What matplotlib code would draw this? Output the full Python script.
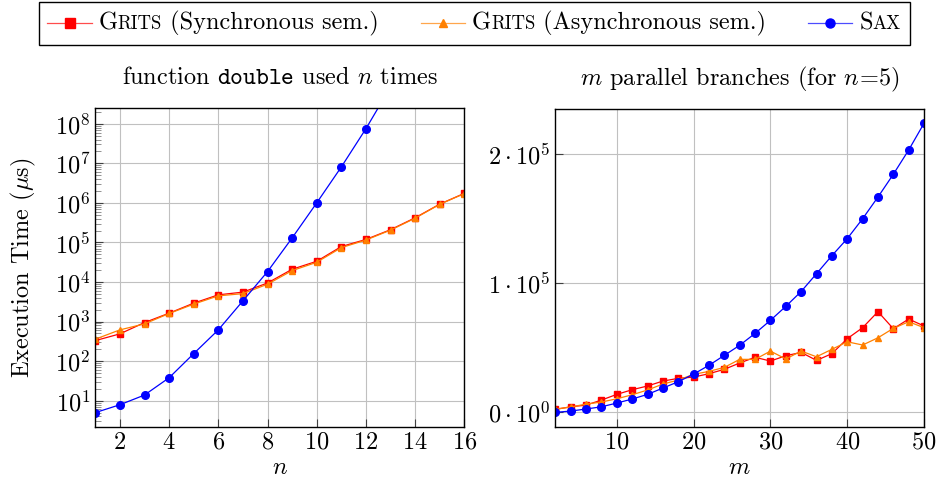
import numpy as np
import matplotlib
matplotlib.use("Agg")
import matplotlib.pyplot as plt
from matplotlib.ticker import LogLocator, NullFormatter, FixedLocator, FixedFormatter
from matplotlib.offsetbox import AnchoredOffsetbox, HPacker, TextArea, DrawingArea
from matplotlib.lines import Line2D

FS = 17.5
plt.rcParams['font.family'] = 'serif'
plt.rcParams['font.serif'] = ['cmr10']
plt.rcParams['mathtext.fontset'] = 'cm'
plt.rcParams['axes.formatter.use_mathtext'] = True
plt.rcParams['font.size'] = FS

# left panel: function double used n times
n_vals = list(range(1, 17))
sync_n = [330, 489, 944, 1630, 2920, 4740, 5550, 9440, 21000, 33400,
          78700, 119000, 210000, 420000, 930000, 1740000]
async_n = [359, 617, 874, 1600, 2760, 4470, 5080, 8800, 19400, 31500,
           74000, 115000, 205000, 410000, 920000, 1720000]
n_sax = list(range(1, 14))
sax_n = [5.0, 7.9, 13.9, 38, 155, 617, 3340, 18300, 130000, 1000000,
         8100000, 75000000, 850000000]

# right panel: m parallel branches (n = 5)
m_vals = list(range(2, 51, 2))
sync_m = [2300, 4300, 5600, 9500, 13900, 17500, 20400, 24200, 26300, 27300,
          29900, 33300, 38200, 42600, 39700, 43800, 46400, 40200, 45400, 57000,
          65500, 77900, 64700, 72200, 66800]
async_m = [2500, 4100, 6400, 8000, 10500, 13600, 17300, 21900, 25000, 29400,
           31700, 34800, 41000, 41000, 47400, 41300, 47400, 43000, 48800, 54600,
           52100, 57700, 65000, 70100, 65500]
sax_m = [0, 1000, 2600, 4300, 7200, 10300, 13900, 18800, 23700, 29600,
         36400, 44100, 51900, 61100, 71200, 82000, 93500, 107300, 121200, 134400,
         149800, 166600, 184200, 203000, 223700]

RED = '#ff0000'
ORANGE = '#ff8000'
BLUE = '#0000ff'
GRID = '#c0c0c0'
LW = 0.9

fig = plt.figure(figsize=(9.39, 4.87), dpi=100)
ax1 = fig.add_axes([0.1015, 0.1238, 0.393, 0.6544])
ax2 = fig.add_axes([0.5914, 0.1238, 0.3927, 0.6524])

ax1.plot(n_vals, sync_n, color=RED, lw=LW, marker='s', ms=5)
ax1.plot(n_vals, async_n, color=ORANGE, lw=LW, marker='^', ms=4.5)
ax1.plot(n_sax, sax_n, color=BLUE, lw=LW, marker='o', ms=5.5)
ax1.set_yscale('log')
ax1.set_xlim(1, 16)
ax1.set_ylim(2.2, 2.5e8)
ax1.set_xticks(range(2, 17, 2))
ax1.yaxis.set_major_locator(LogLocator(base=10, numticks=20))
ax1.yaxis.set_minor_locator(LogLocator(base=10, subs=np.arange(2, 10), numticks=20))
ax1.yaxis.set_minor_formatter(NullFormatter())
ax1.set_xlabel('$n$', labelpad=2)
ax1.set_ylabel(r'Execution Time ($\mu$s)', labelpad=12)
ax1.set_title(r'function $\mathtt{double}$ used $n$ times', pad=17, fontsize=FS)

ax2.plot(m_vals, sync_m, color=RED, lw=LW, marker='s', ms=5)
ax2.plot(m_vals, async_m, color=ORANGE, lw=LW, marker='^', ms=4.5)
ax2.plot(m_vals, sax_m, color=BLUE, lw=LW, marker='o', ms=5.5)
ax2.set_xlim(2, 50)
ax2.set_ylim(-11100, 2.347e5)
ax2.set_xticks(range(10, 51, 10))
ax2.yaxis.set_major_locator(FixedLocator([0, 1e5, 2e5]))
ax2.yaxis.set_major_formatter(FixedFormatter([r'$0\cdot10^{0}$', r'$1\cdot10^{5}$', r'$2\cdot10^{5}$']))
ax2.set_xlabel('$m$', labelpad=2)
ax2.set_title(r'$m$ parallel branches (for $n\!=\!5$)', pad=17, fontsize=FS)

for ax in (ax1, ax2):
    ax.grid(True, which='major', color=GRID, lw=0.8)
    ax.set_axisbelow(True)
    ax.tick_params(which='major', direction='in', length=6, width=0.8, color='#404040')
    ax.tick_params(which='minor', direction='in', length=4, width=0.6, color='#808080')
    for sp in ax.spines.values():
        sp.set_linewidth(1.0)


# legend with small caps names
def handle(color, marker, ms):
    da = DrawingArea(32, 10, 0, 0)
    da.add_artist(Line2D([0, 32], [5, 5], color=color, lw=LW, alpha=0.7))
    da.add_artist(Line2D([16], [5], color=color, marker=marker, ms=ms))
    return da


def smallcaps(first, rest, tail):
    parts = [TextArea(first, textprops=dict(size=FS)),
             TextArea(rest, textprops=dict(size=13.5))]
    if tail:
        parts.append(TextArea(tail, textprops=dict(size=FS)))
    return HPacker(children=parts, align='baseline', pad=0, sep=0)


entries = [
    HPacker(children=[handle(RED, 's', 6.5), smallcaps('G', 'RITS', ' (Synchronous sem.)')],
            align='center', pad=0, sep=5),
    HPacker(children=[handle(ORANGE, '^', 6), smallcaps('G', 'RITS', ' (Asynchronous sem.)')],
            align='center', pad=0, sep=5),
    HPacker(children=[handle(BLUE, 'o', 6.5), smallcaps('S', 'AX', '')],
            align='center', pad=0, sep=5),
]
box = HPacker(children=entries, align='center', pad=0, sep=30)
leg = AnchoredOffsetbox(loc='upper center', child=box, pad=0.36, borderpad=0,
                        frameon=True, bbox_to_anchor=(0.505, 0.996),
                        bbox_transform=fig.transFigure)
leg.patch.set_boxstyle('square,pad=0')
leg.patch.set_edgecolor('black')
leg.patch.set_linewidth(1.0)
fig.add_artist(leg)

fig.savefig('out.png', dpi=100)
